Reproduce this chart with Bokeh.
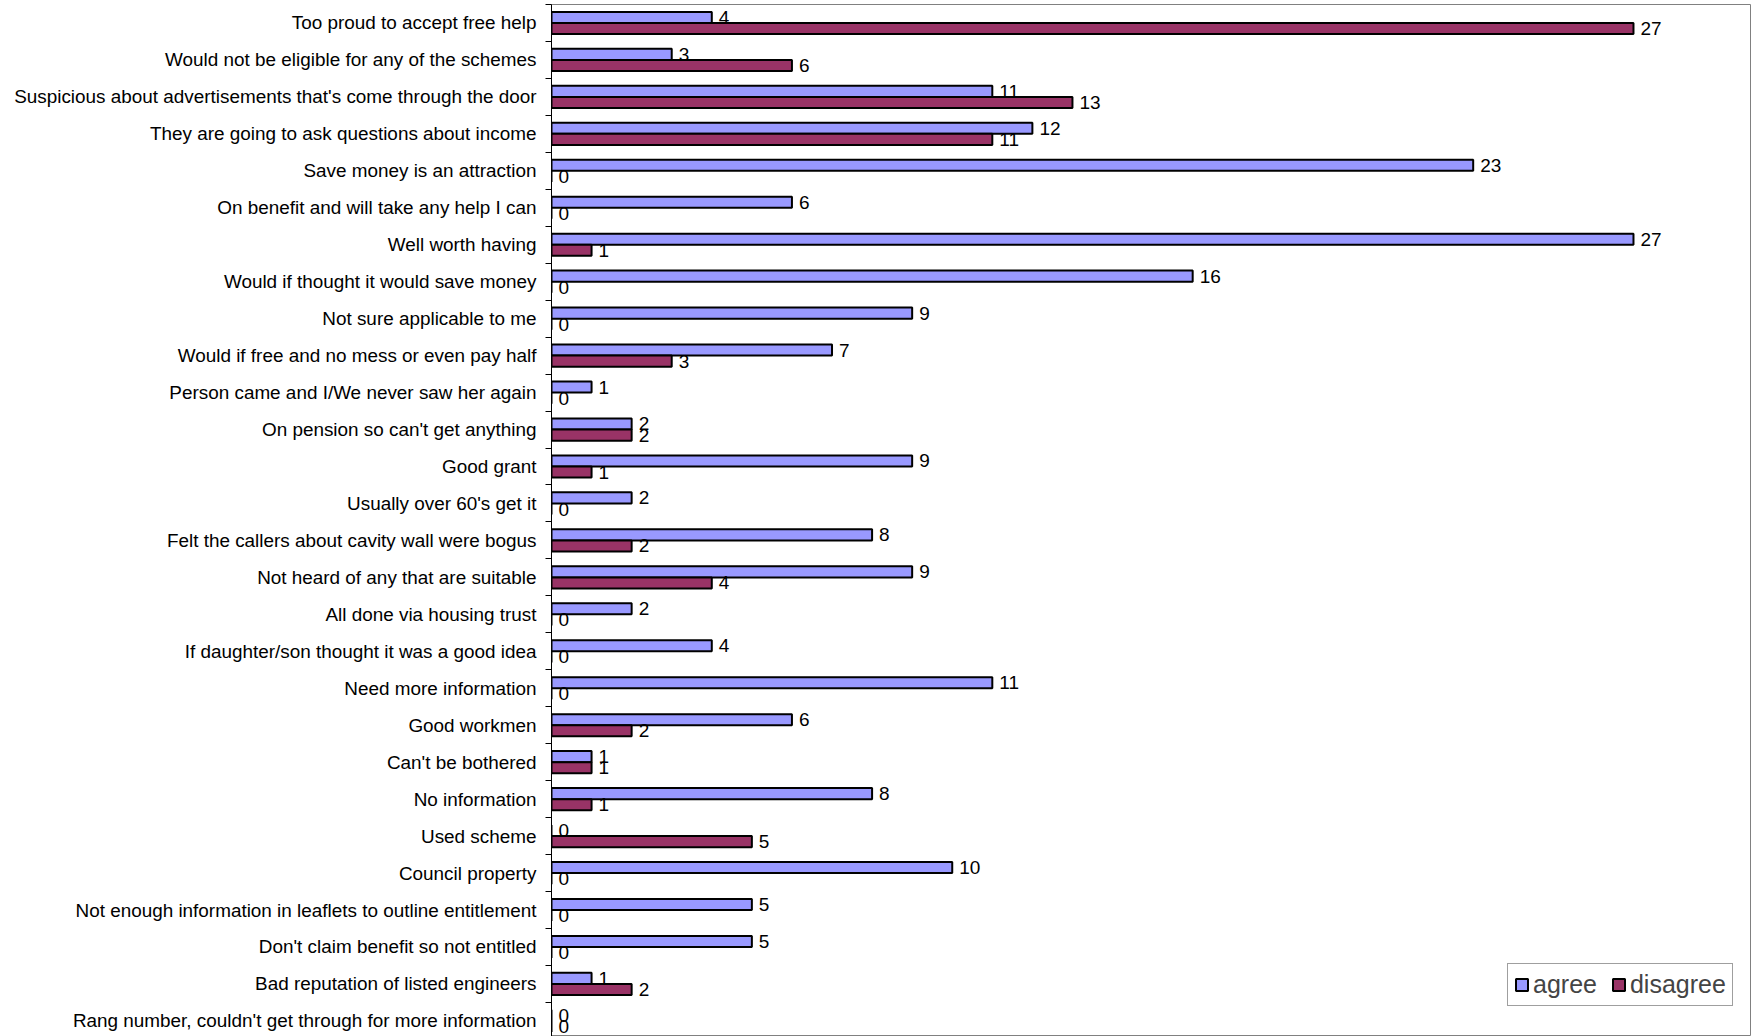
from bokeh.plotting import figure
from bokeh.models import ColumnDataSource, Range1d, FixedTicker, Legend, LegendItem
from bokeh.transform import dodge
from bokeh.core.properties import value
from bokeh.embed import file_html
from bokeh.resources import INLINE

categories = [
    "Too proud to accept free help",
    "Would not be eligible for any of the schemes",
    "Suspicious about advertisements that's come through the door",
    "They are going to ask questions about income",
    "Save money is an attraction",
    "On benefit and will take any help I can",
    "Well worth having",
    "Would if thought it would save money",
    "Not sure applicable to me",
    "Would if free and no mess or even pay half",
    "Person came and I/We never saw her again",
    "On pension so can't get anything",
    "Good grant",
    "Usually over 60's get it",
    "Felt the callers about cavity wall were bogus",
    "Not heard of any that are suitable",
    "All done via housing trust",
    "If daughter/son thought it was a good idea",
    "Need more information",
    "Good workmen",
    "Can't be bothered",
    "No information",
    "Used scheme",
    "Council property",
    "Not enough information in leaflets to outline entitlement",
    "Don't claim benefit so not entitled",
    "Bad reputation of listed engineers",
    "Rang number, couldn't get through for more information",
]
agree = [4, 3, 11, 12, 23, 6, 27, 16, 9, 7, 1, 2, 9, 2, 8, 9, 2, 4, 11, 6, 1, 8, 0, 10, 5, 5, 1, 0]
disagree = [27, 6, 13, 11, 0, 0, 1, 0, 0, 3, 0, 2, 1, 0, 2, 4, 0, 0, 0, 2, 1, 1, 5, 0, 0, 0, 2, 0]

n = len(categories)
pos = [n - 1 - i for i in range(n)]

src = ColumnDataSource(dict(
    pos=pos,
    agree=agree,
    disagree=disagree,
    agree_lab=[str(v) for v in agree],
    disagree_lab=[str(v) for v in disagree],
))

FONT = "Liberation Sans"
BAND_PX = 36.96
FRAME_H = 1032
top = n - 0.5

p = figure(width=1754, height=1036, output_backend="svg", toolbar_location=None,
           x_range=Range1d(0, 29.92), y_range=Range1d(top - FRAME_H / BAND_PX, top),
           x_axis_location=None,
           min_border_left=551, min_border_right=4, min_border_top=4, min_border_bottom=0)
p.grid.visible = False
p.outline_line_color = "#808080"
p.outline_line_width = 1
p.background_fill_color = "white"
p.border_fill_color = "white"

r_agree = p.hbar(y=dodge("pos", 0.15, range=p.y_range), left=0, right="agree", height=0.3,
                 source=src, fill_color="#9999FF", line_color="black", line_width=2)
r_dis = p.hbar(y=dodge("pos", -0.15, range=p.y_range), left=0, right="disagree", height=0.3,
               source=src, fill_color="#993366", line_color="black", line_width=2)

p.text(x="agree", y=dodge("pos", 0.15, range=p.y_range), text="agree_lab", source=src,
       x_offset=7, text_align="left", text_baseline="middle",
       text_font=value(FONT), text_font_size="19px", text_color="black")
p.text(x="disagree", y=dodge("pos", -0.15, range=p.y_range), text="disagree_lab", source=src,
       x_offset=7, text_align="left", text_baseline="middle",
       text_font=value(FONT), text_font_size="19px", text_color="black")

ax = p.yaxis[0]
ax.ticker = FixedTicker(ticks=pos, minor_ticks=[c + 0.5 for c in range(-1, n)])
ax.major_label_overrides = {c: categories[n - 1 - c] for c in pos}
ax.axis_line_color = "black"
ax.axis_line_width = 1
ax.major_tick_out = 0
ax.major_tick_in = 0
ax.minor_tick_out = 6
ax.minor_tick_in = 0
ax.minor_tick_line_color = "black"
ax.major_label_standoff = 9
ax.major_label_text_font = FONT
ax.major_label_text_font_size = "18.9px"
ax.major_label_text_color = "black"

legend = Legend(items=[LegendItem(label="agree", renderers=[r_agree]),
                       LegendItem(label="disagree", renderers=[r_dis])],
                orientation="horizontal", location=(956, 30),
                glyph_width=15, glyph_height=15,
                label_text_font=FONT, label_text_font_size="25px",
                label_standoff=4, spacing=14, padding=6, margin=0,
                border_line_color="#404040", border_line_width=1,
                background_fill_color="white", background_fill_alpha=1)
p.add_layout(legend)

open("out.html", "w").write(file_html(p, INLINE))
